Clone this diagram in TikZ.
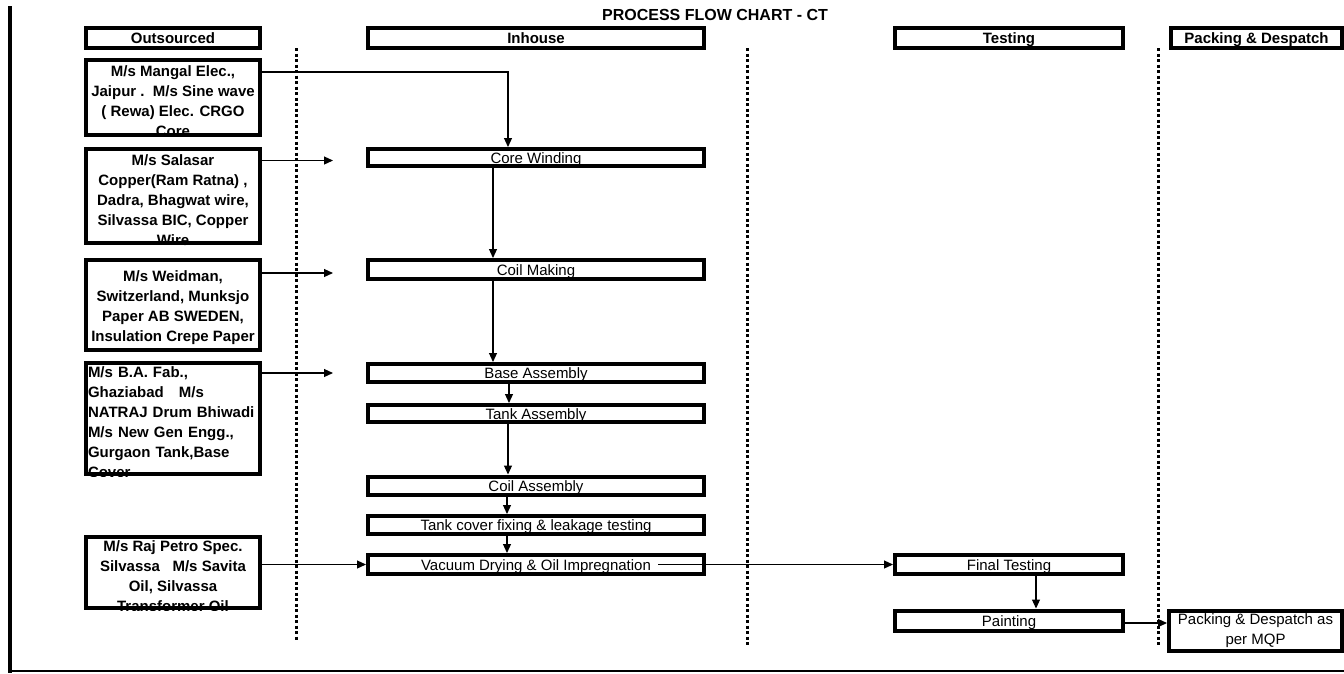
\documentclass[tikz,border=0pt]{standalone}
\usepackage{fontspec}
\setmainfont{Liberation Sans}
\usetikzlibrary{arrows.meta,calc}
\begin{document}
\begin{tikzpicture}[x=1pt,y=-1pt,
  box/.style={draw, line width=4pt, inner sep=0pt, rectangle},
  ptext/.style={font=\fontsize{15}{20}\selectfont, text height=11pt, text depth=0pt},
  btext/.style={font=\fontsize{15}{20}\selectfont\bfseries},
  htext/.style={font=\fontsize{15}{20}\selectfont\bfseries, text height=11pt, text depth=0pt},
  conn/.style={line width=1.1pt, -{Triangle[length=9pt,width=8pt]}},
  sepline/.style={line width=3pt, dash pattern=on 3pt off 2.5pt},
]
\useasboundingbox (0,0) rectangle (1344,673);

% frame
\draw[line width=4pt] (10,6) -- (10,673);
\draw[line width=2pt] (10,671) -- (1344,671);

% separators
\draw[sepline] (296,48) -- (296,640);
\draw[sepline] (747,48) -- (747,647);
\draw[sepline] (1158,48) -- (1158,645);

% title and headers
\node[font=\fontsize{16}{19}\selectfont\bfseries] (title) at (715,15) {PROCESS FLOW CHART - CT};
\node[box, htext, minimum width=174pt, minimum height=20pt] (hO) at (173,38) {Outsourced};
\node[box, htext, minimum width=336pt, minimum height=20pt] (hI) at (536,38) {Inhouse};
\node[box, htext, minimum width=228pt, minimum height=20pt] (hT) at (1009,38) {Testing};
\node[box, htext, minimum width=171pt, minimum height=20pt] (hP) at (1256.5,38) {Packing \& Despatch};

% outsourced boxes
\node[box, minimum width=174pt, minimum height=75pt] (m) at (173,97.5) {};
\begin{scope}
\clip (m.north west) rectangle (m.south east);
\node[btext, align=center, inner sep=0pt, yshift=-4pt] (mt) at (m.center) {M/s Mangal Elec.,\\Jaipur .\ \ M/s Sine wave\\( Rewa) Elec. CRGO\\Core};
\end{scope}

\node[box, minimum width=174pt, minimum height=94pt] (s) at (173,196) {};
\begin{scope}
\clip (s.north west) rectangle (s.south east);
\node[btext, align=center, inner sep=0pt, yshift=-4pt] (st) at (s.center) {M/s Salasar\\Copper(Ram Ratna) ,\\Dadra, Bhagwat wire,\\Silvassa BIC, Copper\\Wire};
\end{scope}

\node[box, minimum width=174pt, minimum height=90pt] (w) at (173,305) {};
\begin{scope}
\clip (w.north west) rectangle (w.south east);
\node[btext, align=center, inner sep=0pt, yshift=-3pt] (wt) at (w.center) {M/s Weidman,\\Switzerland, Munksjo\\Paper AB SWEDEN,\\Insulation Crepe Paper};
\end{scope}

\node[box, minimum width=174pt, minimum height=111pt] (b) at (173,418.5) {};
\begin{scope}
\clip (b.north west) rectangle (b.south east);
\node[btext, align=left, text width=168pt, inner sep=0pt, yshift=-4pt] (bt) at (172,418.5) {M/s B.A. Fab.,\\Ghaziabad\ \ \ M/s\\NATRAJ Drum Bhiwadi\\M/s New Gen Engg.,\\Gurgaon Tank,Base\\Cover};
\end{scope}

\node[box, minimum width=174pt, minimum height=71pt] (r) at (173,572.5) {};
\begin{scope}
\clip (r.north west) rectangle (r.south east);
\node[btext, align=center, inner sep=0pt, yshift=-4pt] (rt) at (r.center) {M/s Raj Petro Spec.\\Silvassa\ \ \ M/s Savita\\Oil, Silvassa\\Transformer Oil};
\end{scope}

% process boxes
\node[box, ptext, minimum width=336pt, minimum height=17pt] (cw) at (536,157.5) {Core Winding};
\node[box, ptext, minimum width=336pt, minimum height=19pt] (cm) at (536,269.5) {Coil Making};
\node[box, ptext, minimum width=336pt, minimum height=18pt] (ba) at (536,373) {Base Assembly};
\node[box, ptext, minimum width=336pt, minimum height=17pt] (ta) at (536,413.5) {Tank Assembly};
\node[box, ptext, minimum width=336pt, minimum height=18pt] (ca) at (536,485.5) {Coil Assembly};
\node[box, ptext, minimum width=336pt, minimum height=18pt] (tc) at (536,525) {Tank cover fixing \& leakage testing};
\node[box, ptext, minimum width=336pt, minimum height=19pt] (vd) at (536,564.5) {Vacuum Drying \& Oil Impregnation};
\node[box, ptext, minimum width=228pt, minimum height=19pt] (ft) at (1009,564.5) {Final Testing};
\node[box, ptext, minimum width=228pt, minimum height=20pt] (pt) at (1009,620.5) {Painting};
\node[box, font=\fontsize{15}{20}\selectfont, align=center, minimum width=173pt, minimum height=40pt] (pk) at (1255.5,631) {Packing \& Despatch as\\per MQP};

% connectors
\draw[conn] ($(m.north east)+(0,14)$) -| ($(cw.north)+(-28,0)$);
\coordinate (sA) at (333,160.5);
\draw[conn] (s.east |- sA) -- (sA);
\coordinate (wA) at (333,273);
\draw[conn] (w.east |- wA) -- (wA);
\coordinate (bA) at (333,373);
\draw[conn] (b.east |- bA) -- (bA);
\draw[conn] (r.east |- vd.west) -- (vd.west);
\draw[conn] ($(cw.south)+(-43,0)$) -- ($(cm.north)+(-43,0)$);
\draw[conn] ($(cm.south)+(-43,0)$) -- ($(ba.north)+(-43,0)$);
\draw[conn] ($(ba.south)+(-27,0)$) -- ($(ta.north)+(-27,0)$);
\draw[conn] ($(ta.south)+(-28,0)$) -- ($(ca.north)+(-28,0)$);
\draw[conn] ($(ca.south)+(-29,0)$) -- ($(tc.north)+(-29,0)$);
\draw[conn] ($(tc.south)+(-29,0)$) -- ($(vd.north)+(-29,0)$);
\draw[conn] ($(vd.center)+(122,0)$) -- (ft.west);
\draw[conn] ($(ft.south)+(27,0)$) -- ($(pt.north)+(27,0)$);
\draw[conn] ($(pt.east)+(-3,2.5)$) -- ($(pt.east -| pk.west)+(0,2.5)$);
\end{tikzpicture}
\end{document}
